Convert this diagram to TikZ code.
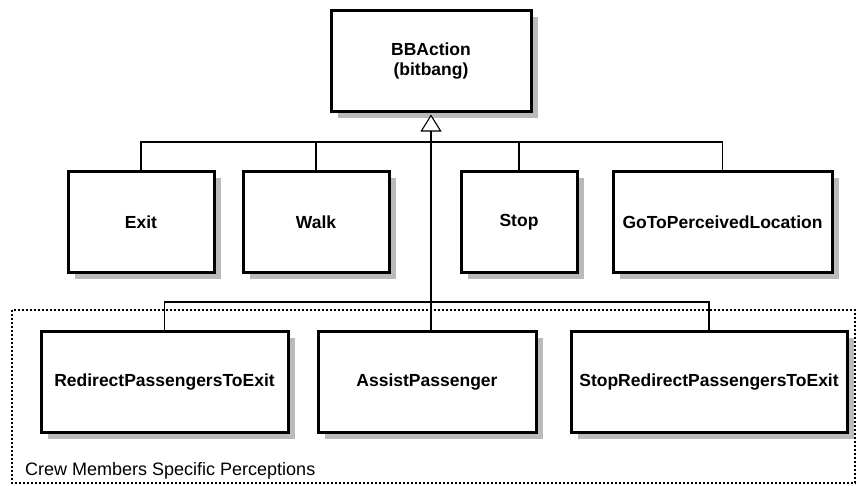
\documentclass[tikz,border=0pt]{standalone}
\usepackage{fontspec}
\setmainfont{Liberation Sans}
\usetikzlibrary{arrows.meta,shadows}

\tikzset{
  classbox/.style={draw=black, line width=3pt, fill=white, rectangle,
    inner sep=0pt, align=center,
    font=\fontsize{17.5}{19.5}\selectfont\bfseries,
    drop shadow={shadow xshift=6.5pt, shadow yshift=-6.5pt,
      fill=black!27, opacity=1}},
  link/.style={draw=black, line width=1.1pt},
  zone/.style={draw=black, line width=2.2pt, dash pattern=on 2.2pt off 1.8pt},
  zonelabel/.style={anchor=base west, inner sep=0pt,
    font=\fontsize{18}{20}\selectfont},
  inherit/.style={{Triangle[open, width=21pt, length=17pt, line width=1.1pt, fill=white]}-}
}

\begin{document}
\begin{tikzpicture}[x=1pt, y=-1pt]
  \useasboundingbox (0,0) rectangle (858,485);

  % crew-specific region
  \draw[zone] (12,310) rectangle (855,483);
  \node[zonelabel] (crewlabel) at (25,475) {Crew Members Specific Perceptions};

  % base action
  \node[classbox, minimum width=200pt, minimum height=101pt] (bb) at (431,61)
    {BBAction\\(bitbang)};

  % generic actions
  \node[classbox, minimum width=146pt, minimum height=101pt] (exit) at (141,222) {Exit};
  \node[classbox, minimum width=146pt, minimum height=101pt] (walk) at (316,222) {Walk};
  \node[classbox, minimum width=116pt, minimum height=101pt] (stop) at (519,222) {Stop};
  \node[classbox, minimum width=219pt, minimum height=101pt] (goto) at (722.5,222) {GoToPerceivedLocation};

  % crew actions
  \node[classbox, minimum width=247pt, minimum height=101pt] (redir) at (164.5,382) {RedirectPassengersToExit};
  \node[classbox, minimum width=218pt, minimum height=101pt] (assist) at (427,382) {AssistPassenger};
  \node[classbox, minimum width=276pt, minimum height=101pt] (sredir) at (709,382) {StopRedirectPassengersToExit};

  % bus bars
  \coordinate (barA) at (0,142);
  \coordinate (barB) at (0,302);

  \draw[link] (exit.north) |- (goto.north |- barA) -- (goto.north);
  \draw[link] (walk.north) -- (walk.north |- barA);
  \draw[link] (stop.north) -- (stop.north |- barA);

  \draw[link] (redir.north) |- (sredir.north |- barB) -- (sredir.north);

  % generalisation trunk
  \draw[link, inherit] ([yshift=-1.5pt]bb.south) -- (bb.south |- assist.north);
\end{tikzpicture}
\end{document}
